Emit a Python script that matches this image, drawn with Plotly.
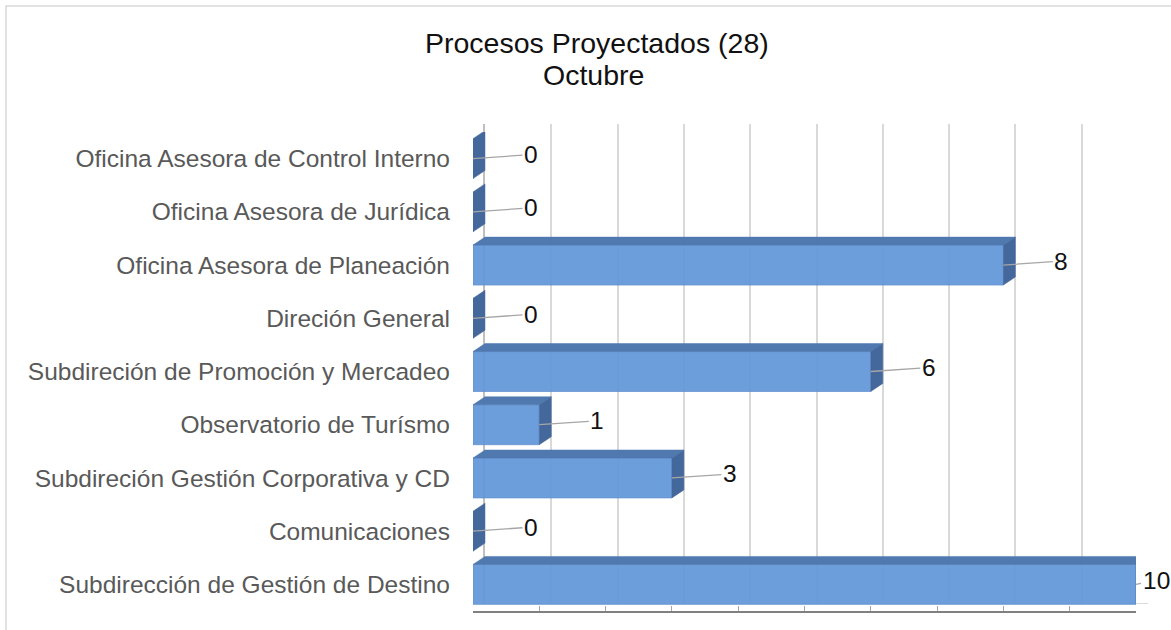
import plotly.graph_objects as go

# ---------------- data (top to bottom as shown) ----------------
categories = [
    "Oficina Asesora de Control Interno",
    "Oficina Asesora de Jurídica",
    "Oficina Asesora de Planeación",
    "Direción General",
    "Subdireción de Promoción y Mercadeo",
    "Observatorio de Turísmo",
    "Subdireción Gestión Corporativa y CD",
    "Comunicaciones",
    "Subdirección de Gestión de Destino",
]
values = [0, 0, 8, 0, 6, 1, 3, 0, 10]
title_lines = ["Procesos Proyectados (28)", "Octubre"]
x_max = 10

# bottom-first ordering for a numeric y axis
cats_b = categories[::-1]
vals_b = values[::-1]
pos_b = list(range(len(cats_b)))

# ---------------- geometry / style ----------------
W, H = 1171, 630
ML, MR, MT, MB = 473, 23, 124, 19
PW, PH = W - ML - MR, H - MT - MB
DEPTH_PX_X, DEPTH_PX_Y = 12, 8
FRONT_W = PW - DEPTH_PX_X
FRONT_H = PH - DEPTH_PX_Y
dx = DEPTH_PX_X / FRONT_W * x_max
dy = DEPTH_PX_Y / FRONT_H * len(cats_b)
half = 0.375

FRONT = "#6397DA"
TOP = "#5079B0"
SIDE = "#44689C"
FONT = "Liberation Sans, Arial, sans-serif"


def px_to_paper_x(px):
    return (px - ML) / PW


def px_to_paper_y(py):
    return (H - MB - py) / PH


fig = go.Figure()

# back wall (gridlines) subplot: x / y
fig.add_trace(go.Scatter(x=[0, x_max], y=[0, 1], mode="markers",
                         marker=dict(opacity=0), hoverinfo="skip",
                         showlegend=False, xaxis="x", yaxis="y"))

# front faces
fig.add_trace(go.Bar(y=pos_b, x=vals_b, orientation="h", width=2 * half,
                     marker=dict(color=FRONT, line=dict(color="#5A8BCB", width=0.8)),
                     opacity=0.93, showlegend=False, xaxis="x2", yaxis="y2",
                     hoverinfo="x+text", text=cats_b, textposition="none"))

# top faces and side faces (derived from values)
tx, ty, sx, sy = [], [], [], []
for c, v in zip(pos_b, vals_b):
    if v > 0:
        tx += [0, v, v + dx, dx, 0, None]
        ty += [c + half, c + half, c + half + dy, c + half + dy, c + half, None]
    sx += [v, v + dx, v + dx, v, v, None]
    sy += [c - half, c - half + dy, c + half + dy, c + half, c - half, None]

fig.add_trace(go.Scatter(x=tx, y=ty, mode="lines", fill="toself", fillcolor=TOP,
                         line=dict(color=TOP, width=0.5), hoverinfo="skip",
                         showlegend=False, xaxis="x2", yaxis="y2"))
fig.add_trace(go.Scatter(x=sx, y=sy, mode="lines", fill="toself", fillcolor=SIDE,
                         line=dict(color=SIDE, width=0.5), hoverinfo="skip",
                         showlegend=False, xaxis="x2", yaxis="y2"))

# data labels with leader lines
for c, v in zip(pos_b, vals_b):
    off = 20 if v == x_max else 58
    fig.add_annotation(x=v, y=c, xref="x2", yref="y2", text=str(v),
                       showarrow=True, arrowhead=0, arrowwidth=1.3,
                       arrowcolor="#A6A6A6", ax=off, ay=-4, standoff=0,
                       font=dict(family=FONT, size=24.5, color="#111111"))

# title (two lines)
fig.add_annotation(text=title_lines[0], xref="paper", yref="paper",
                   x=px_to_paper_x(597), y=px_to_paper_y(43),
                   xanchor="center", yanchor="middle", showarrow=False,
                   font=dict(family=FONT, size=28.5, color="#111111"))
fig.add_annotation(text=title_lines[1], xref="paper", yref="paper",
                   x=px_to_paper_x(593), y=px_to_paper_y(75),
                   xanchor="center", yanchor="middle", showarrow=False,
                   font=dict(family=FONT, size=28.5, color="#111111"))

# outer chart border
fig.add_shape(type="rect", xref="paper", yref="paper",
              x0=px_to_paper_x(6), x1=px_to_paper_x(W + 10),
              y0=px_to_paper_y(H + 10), y1=px_to_paper_y(6),
              line=dict(color="#D9D9D9", width=1.5), fillcolor="rgba(0,0,0,0)",
              layer="below")

fig.update_layout(
    width=W, height=H,
    margin=dict(l=ML, r=MR, t=MT, b=MB),
    paper_bgcolor="white", plot_bgcolor="rgba(0,0,0,0)",
    font=dict(family=FONT),
    barmode="overlay",
    xaxis=dict(domain=[DEPTH_PX_X / PW, 1], range=[0, x_max], dtick=1,
               showgrid=True, gridcolor="#D9D9D9", gridwidth=1.5,
               showticklabels=False, zeroline=False, showline=True,
               linecolor="#D9D9D9", linewidth=1, anchor="y", fixedrange=True),
    yaxis=dict(domain=[DEPTH_PX_Y / PH, 1], range=[0, 1], showgrid=False,
               showticklabels=False, zeroline=False, showline=True,
               linecolor="#BFBFBF", linewidth=2, anchor="x", fixedrange=True),
    xaxis2=dict(domain=[0, FRONT_W / PW], range=[0, x_max], dtick=1,
                showgrid=False, showticklabels=False, zeroline=False,
                showline=True, linecolor="#808080", linewidth=2,
                ticks="inside", ticklen=5, tickcolor="#A6A6A6",
                anchor="y2", fixedrange=True),
    yaxis2=dict(domain=[0, FRONT_H / PH], range=[-0.5, len(cats_b) - 0.5],
                tickmode="array", tickvals=pos_b, ticktext=cats_b,
                showgrid=False, zeroline=False, showline=False, ticks="",
                ticklabelstandoff=22,
                tickfont=dict(family=FONT, size=24.5, color="#595959"),
                anchor="x2", fixedrange=True),
)

fig.write_html("out.html", config={"displayModeBar": False},
               post_script="document.body.style.margin='0';")
